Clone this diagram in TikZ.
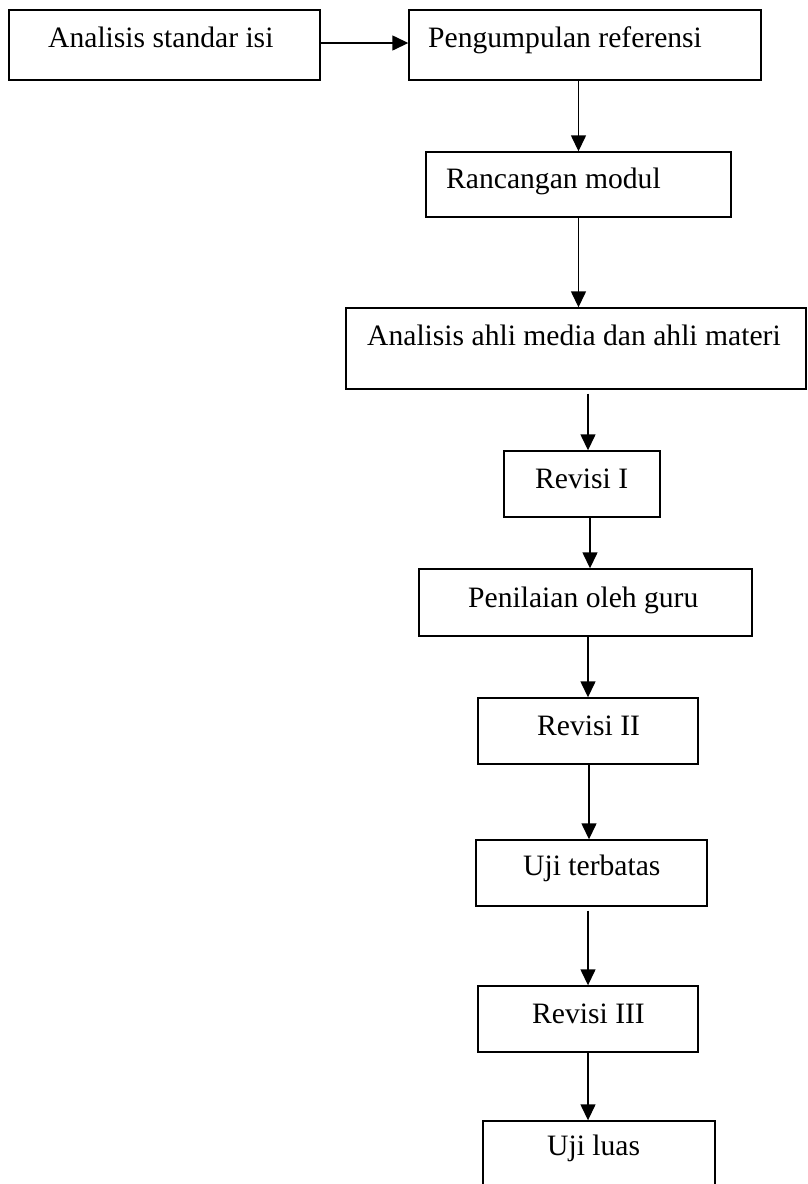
\documentclass[tikz,border=0pt]{standalone}
\usepackage{fontspec}
\setmainfont{Liberation Serif}
\usepackage{tikz}
\usetikzlibrary{arrows.meta,positioning,calc}

\begin{document}
\begin{tikzpicture}[x=1pt,y=-1pt,
  box/.style={draw, line width=1.4pt, rectangle, inner sep=0pt},
  txt/.style={anchor=base west, inner sep=0pt, font=\fontsize{29.6}{34}\selectfont},
  arr/.style={-{Triangle[width=15pt,length=16pt]}, line width=1.4pt}]
\useasboundingbox (0,0) rectangle (807,1184);
% boxes
\node[box, minimum width=311pt, minimum height=70pt] (standar) at (164.5,45) {};
\node[box, minimum width=352pt, minimum height=70pt] (referensi) at (585,45) {};
\node[box, minimum width=305pt, minimum height=65pt] (rancangan) at (578.5,184.5) {};
\node[box, minimum width=460pt, minimum height=81pt] (ahli) at (576,348.5) {};
\node[box, minimum width=156pt, minimum height=66pt] (revisiA) at (582,484) {};
\node[box, minimum width=333pt, minimum height=67pt] (guru) at (585.5,602.5) {};
\node[box, minimum width=220pt, minimum height=66pt] (revisiB) at (588,731) {};
\node[box, minimum width=231pt, minimum height=66pt] (terbatas) at (591.5,873) {};
\node[box, minimum width=220pt, minimum height=66pt] (revisiC) at (588,1019) {};
\node[box, minimum width=232pt, minimum height=79pt] (luas) at (599,1160.5) {};
% labels
\node[txt] (tstandar) at (48,47) {Analisis standar isi};
\node[txt] (treferensi) at (428,47) {Pengumpulan referensi};
\node[txt] (trancangan) at (446,188) {Rancangan modul};
\node[txt] (tahli) at (367,345) {Analisis ahli media dan ahli materi};
\node[txt] (trevisiA) at (535,488) {Revisi I};
\node[txt] (tguru) at (468,607) {Penilaian oleh guru};
\node[txt] (trevisiB) at (537,735) {Revisi II};
\node[txt] (tterbatas) at (523,875) {Uji terbatas};
\node[txt] (trevisiC) at (532,1023) {Revisi III};
\node[txt] (tluas) at (547,1155) {Uji luas};
% arrows
\draw[arr] ([yshift=2pt]standar.east) -- ([yshift=2pt]referensi.west);
\draw[arr] (rancangan.north |- referensi.south) -- (rancangan.north);
\draw[arr] (rancangan.south) -- (rancangan.south |- ahli.north);
\draw[arr, shorten <=4pt] ([xshift=6pt]revisiA.north |- ahli.south) -- ([xshift=6pt]revisiA.north);
\draw[arr] ([xshift=8pt]revisiA.south) -- ([xshift=8pt]revisiA.south |- guru.north);
\draw[arr] (revisiB.north |- guru.south) -- (revisiB.north);
\draw[arr] ([xshift=1pt]revisiB.south) -- ([xshift=1pt]revisiB.south |- terbatas.north);
\draw[arr, shorten <=4pt] (revisiC.north |- terbatas.south) -- (revisiC.north);
\draw[arr] (revisiC.south) -- (revisiC.south |- luas.north);
\end{tikzpicture}
\end{document}
